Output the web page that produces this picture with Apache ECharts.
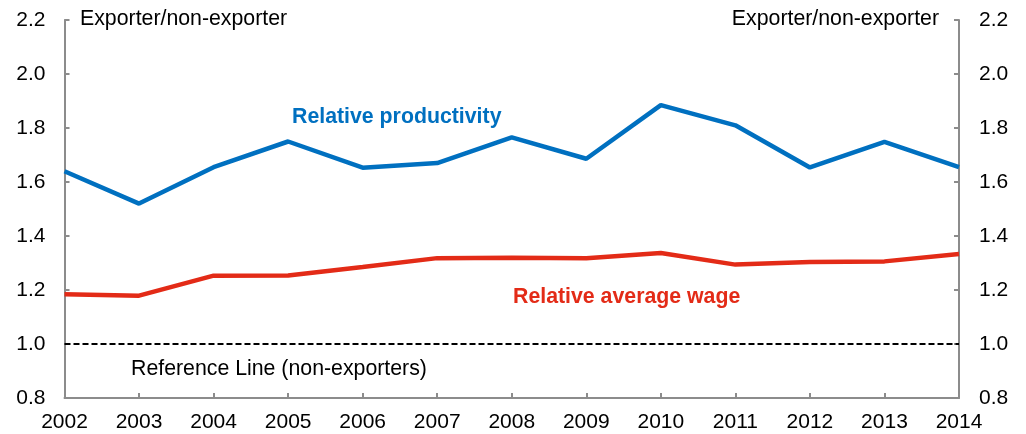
<!DOCTYPE html>
<html>
<head>
<meta charset="utf-8">
<script src="https://cdn.jsdelivr.net/npm/echarts@6/dist/echarts.min.js"></script>
<style>
html,body{margin:0;padding:0;background:#fff;}
#chart{width:1026px;height:434px;}
</style>
</head>
<body>
<div id="chart"></div>
<script>
const years = ['2002','2003','2004','2005','2006','2007','2008','2009','2010','2011','2012','2013','2014'];
const relativeProductivity = [1.64, 1.52, 1.655, 1.75, 1.653, 1.67, 1.765, 1.686, 1.885, 1.81, 1.654, 1.749, 1.655];
const relativeWage = [1.184, 1.179, 1.253, 1.254, 1.285, 1.318, 1.319, 1.318, 1.337, 1.294, 1.304, 1.306, 1.333];
const referenceValue = 1.0;

const FONT = '"Liberation Sans", Arial, sans-serif';
const FS = 21;
const FT = 21.3;
const axisColor = '#8c8c8c';
const chart = echarts.init(document.getElementById('chart'), null, {renderer: 'canvas'});

const yAxisCommon = {
  type: 'value', min: 0.8, max: 2.2, interval: 0.2,
  axisLine: {show: true, lineStyle: {color: axisColor, width: 2}},
  axisTick: {show: true, inside: true, length: 5, lineStyle: {color: axisColor, width: 2}},
  splitLine: {show: false},
  axisLabel: {color: '#000', fontFamily: FONT, fontSize: FS, formatter: v => v.toFixed(1)}
};

chart.setOption({
  animation: false,
  backgroundColor: '#fff',
  grid: {left: 64.5, right: 67, top: 20, bottom: 36, containLabel: false},
  xAxis: {
    type: 'category', data: years, boundaryGap: false,
    axisLine: {lineStyle: {color: axisColor, width: 2}},
    axisTick: {show: true, inside: true, length: 5, alignWithLabel: true, lineStyle: {color: axisColor, width: 2}},
    axisLabel: {color: '#000', fontFamily: FONT, fontSize: FS, margin: 14, showMinLabel: true, showMaxLabel: true, interval: 0},
    splitLine: {show: false}
  },
  yAxis: [
    Object.assign({}, yAxisCommon, {position: 'left', axisLabel: Object.assign({}, yAxisCommon.axisLabel, {margin: 19})}),
    Object.assign({}, yAxisCommon, {position: 'right', axisLabel: Object.assign({}, yAxisCommon.axisLabel, {margin: 20})})
  ],
  series: [
    {
      name: 'Relative productivity', type: 'line', data: relativeProductivity,
      symbol: 'none', lineStyle: {color: '#0070c0', width: 4.5}, z: 3
    },
    {
      name: 'Relative average wage', type: 'line', data: relativeWage,
      symbol: 'none', lineStyle: {color: '#e32b17', width: 4.5}, z: 3,
      markLine: {
        silent: true, symbol: 'none', label: {show: false},
        lineStyle: {color: '#000', type: [6, 3], width: 2.2},
        data: [{yAxis: referenceValue}]
      }
    }
  ],
  graphic: [
    {type: 'text', left: 80, top: 9, style: {text: 'Exporter/non-exporter', fill: '#000', font: FT + 'px ' + FONT}},
    {type: 'text', right: 87, top: 9, style: {text: 'Exporter/non-exporter', fill: '#000', font: FT + 'px ' + FONT}},
    {type: 'text', left: 292, top: 107, style: {text: 'Relative productivity', fill: '#0070c0', font: 'bold ' + FT + 'px ' + FONT}},
    {type: 'text', left: 513, top: 287, style: {text: 'Relative average wage', fill: '#e32b17', font: 'bold ' + FT + 'px ' + FONT}},
    {type: 'text', left: 131, top: 359, style: {text: 'Reference Line (non-exporters)', fill: '#000', font: FT + 'px ' + FONT}}
  ]
});
</script>
</body>
</html>
